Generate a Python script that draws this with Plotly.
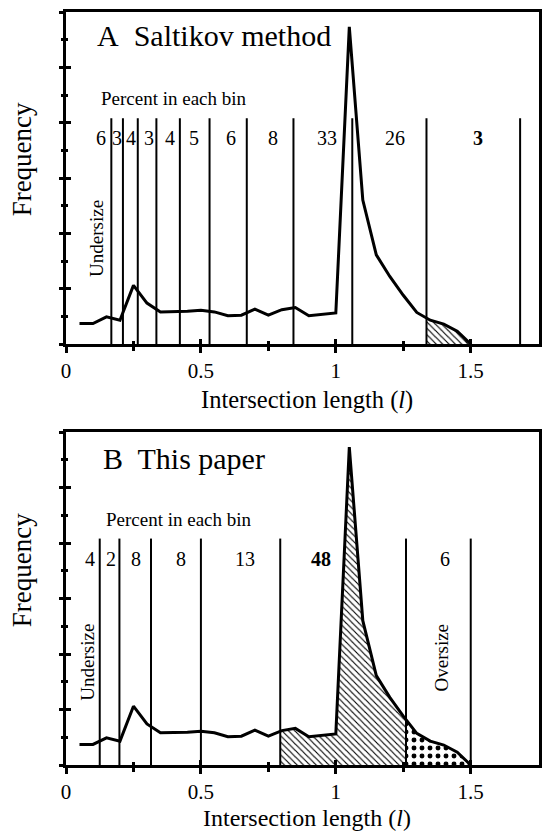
import numpy as np
import plotly.graph_objects as go

# ---------------- data ----------------
length = [0.05, 0.10, 0.15, 0.20, 0.25, 0.30, 0.35, 0.40, 0.45, 0.50,
          0.55, 0.60, 0.65, 0.70, 0.75, 0.80, 0.85, 0.90, 0.95, 1.00,
          1.05, 1.10, 1.15, 1.20, 1.25, 1.30, 1.35, 1.40, 1.45, 1.50]
frequency = [0.37, 0.37, 0.49, 0.43, 1.06, 0.74, 0.58, 0.58, 0.59, 0.61,
             0.58, 0.51, 0.52, 0.63, 0.52, 0.62, 0.66, 0.51, 0.535, 0.56,
             5.73, 2.60, 1.61, 1.22, 0.88, 0.57, 0.43, 0.36, 0.23, 0.0]

saltikov_edges = [0.168, 0.211, 0.266, 0.335, 0.422, 0.532, 0.670, 0.843, 1.061, 1.336, 1.683]
saltikov_pct = ["6", "3", "4", "3", "4", "5", "6", "8", "33", "26", "<b>3</b>"]
saltikov_pct_x = [0.131, 0.19, 0.242, 0.306, 0.386, 0.475, 0.613, 0.768, 0.967, 1.221, 1.526]

paper_edges = [0.125, 0.198, 0.315, 0.500, 0.794, 1.260, 1.500]
paper_pct = ["4", "2", "8", "8", "13", "<b>48</b>", "6"]
paper_pct_x = [0.088, 0.165, 0.26, 0.426, 0.662, 0.946, 1.403]

bin_line_top = 4.08
x_ticks = [0, 0.5, 1, 1.5]
x_ticktext = ["0", "0.5", "1", "1.5"]
x_minor = [0.25, 0.75, 1.25]

hatch_a = [(1.336, 1.5, "\\")]
hatch_b = [(0.794, 1.26, "\\"), (1.26, 1.5, ".")]

FONT = "Liberation Serif, Times New Roman, serif"
XR = [0, 1.753]
YR = [0, 6]

fig = go.Figure()


def segment(a, b):
    xs = np.array(length)
    ys = np.array(frequency)
    m = (xs > a) & (xs < b)
    sx = [a] + list(xs[m]) + [b]
    sy = [float(np.interp(a, xs, ys))] + list(ys[m]) + [float(np.interp(b, xs, ys))]
    return sx, sy


def add_panel(xa, ya, edges, hatches):
    for a, b, shape in hatches:
        sx, sy = segment(a, b)
        fig.add_trace(go.Scatter(
            x=sx, y=sy, mode="lines", fill="tozeroy", line=dict(width=0, color="black"),
            fillcolor="white",
            fillpattern=dict(shape=shape, fgcolor="black", bgcolor="white",
                             size=(4.5 if shape != "." else 8),
                             solidity=(0.25 if shape != "." else 0.3),
                             fillmode="replace"),
            xaxis=xa, yaxis=ya, hoverinfo="skip", showlegend=False))
    vx, vy = [], []
    for e in edges:
        vx += [e, e, None]
        vy += [0, bin_line_top, None]
    fig.add_trace(go.Scatter(x=vx, y=vy, mode="lines", line=dict(color="black", width=2),
                             xaxis=xa, yaxis=ya, hoverinfo="skip", showlegend=False))
    fig.add_trace(go.Scatter(x=length, y=frequency, mode="lines",
                             line=dict(color="black", width=3),
                             xaxis=xa, yaxis=ya, showlegend=False))


add_panel("x", "y", saltikov_edges, hatch_a)
add_panel("x2", "y2", paper_edges, hatch_b)

# invisible traces on overlay axes (they carry the inward half of the crossing ticks)
for xa, ya in [("x3", "y3"), ("x4", "y4")]:
    fig.add_trace(go.Scatter(x=length, y=frequency, mode="lines", opacity=0,
                             xaxis=xa, yaxis=ya, hoverinfo="skip", showlegend=False))

top_dom = [0.5591, 1.0]
bot_dom = [0.0, 0.4422]


def xaxis_main(anchor):
    return dict(range=XR, anchor=anchor, showline=True, linewidth=3, linecolor="black",
                mirror=True, ticks="outside", ticklen=6, tickwidth=2.5, tickcolor="black",
                tickvals=x_ticks, ticktext=x_ticktext, showgrid=False, zeroline=False,
                tickfont=dict(family=FONT, size=21, color="black"),
                minor=dict(tickvals=x_minor, ticks="outside", ticklen=4, tickwidth=2.5,
                           tickcolor="black", showgrid=False))


def xaxis_over(over, anchor):
    return dict(range=XR, overlaying=over, anchor=anchor, showline=False,
                ticks="inside", ticklen=5, tickwidth=2.5, tickcolor="black",
                tickvals=x_ticks, showticklabels=False, showgrid=False, zeroline=False,
                minor=dict(tickvals=x_minor, ticks="inside", ticklen=3, tickwidth=2.5,
                           tickcolor="black", showgrid=False))


def yaxis_main(anchor, dom):
    return dict(range=YR, domain=dom, anchor=anchor, showline=True, linewidth=3,
                linecolor="black", mirror=True, ticks="outside", ticklen=4, tickwidth=2.5,
                tickcolor="black", dtick=1, showticklabels=False, showgrid=False,
                zeroline=False,
                minor=dict(dtick=0.5, ticks="outside", ticklen=2, tickwidth=2.5,
                           tickcolor="black", showgrid=False))


def yaxis_over(over, anchor):
    return dict(range=YR, overlaying=over, anchor=anchor, showline=False,
                ticks="inside", ticklen=5, tickwidth=2.5, tickcolor="black", dtick=1,
                showticklabels=False, showgrid=False, zeroline=False,
                minor=dict(dtick=0.5, ticks="inside", ticklen=2, tickwidth=2.5,
                           tickcolor="black", showgrid=False))


fig.update_layout(
    width=543, height=832,
    margin=dict(l=66, r=1, t=12, b=67),
    paper_bgcolor="white", plot_bgcolor="white",
    font=dict(family=FONT, color="black"),
    showlegend=False,
    xaxis=xaxis_main("y"),
    yaxis=yaxis_main("x", top_dom),
    xaxis2=xaxis_main("y2"),
    yaxis2=yaxis_main("x2", bot_dom),
    xaxis3=xaxis_over("x", "y"),
    yaxis3=yaxis_over("y", "x"),
    xaxis4=xaxis_over("x2", "y2"),
    yaxis4=yaxis_over("y2", "x2"),
)

ann = []


def txt(text, x, y, xr, yr, size, **kw):
    d = dict(text=text, x=x, y=y, xref=xr, yref=yr, showarrow=False,
             font=dict(family=FONT, size=size, color="black"))
    d.update(kw)
    ann.append(d)


# panel A
txt("A\u00a0 Saltikov method", 0.107, 5.58, "x", "y", 30, xanchor="left", yanchor="middle")
txt("Percent in each bin", 0.123, 4.44, "x", "y", 19, xanchor="left", yanchor="middle")
for t, x in zip(saltikov_pct, saltikov_pct_x):
    txt(t, x, 3.72, "x", "y", 20, xanchor="center", yanchor="middle")
txt("Undersize", 0.115, 1.90, "x", "y", 19, textangle=-90, xanchor="center", yanchor="middle")
txt("Frequency", -0.0924, 0.557, "x domain", "y domain", 27, textangle=-90,
    xanchor="center", yanchor="middle")
txt("Intersection length (<i>l</i>)", 0.892, -0.168, "x", "y domain", 24.5,
    xanchor="center", yanchor="middle", borderpad=0)

# panel B
txt("B\u00a0 This paper", 0.1315, 5.53, "x2", "y2", 30, xanchor="left", yanchor="middle")
txt("Percent in each bin", 0.141, 4.43, "x2", "y2", 19, xanchor="left", yanchor="middle")
for t, x in zip(paper_pct, paper_pct_x):
    txt(t, x, 3.72, "x2", "y2", 20, xanchor="center", yanchor="middle")
txt("Undersize", 0.079, 1.85, "x2", "y2", 19, textangle=-90, xanchor="center", yanchor="middle")
txt("Oversize", 1.392, 1.93, "x2", "y2", 19, textangle=-90, xanchor="center", yanchor="middle")
txt("Frequency", -0.0924, 0.586, "x2 domain", "y2 domain", 27, textangle=-90,
    xanchor="center", yanchor="middle")
txt("Intersection length (<i>l</i>)", 0.892, -0.2, "x2", "y2 domain", 24,
    xanchor="center", yanchor="bottom", borderpad=0)

fig.update_layout(annotations=ann)

fig.write_html("out.html")
